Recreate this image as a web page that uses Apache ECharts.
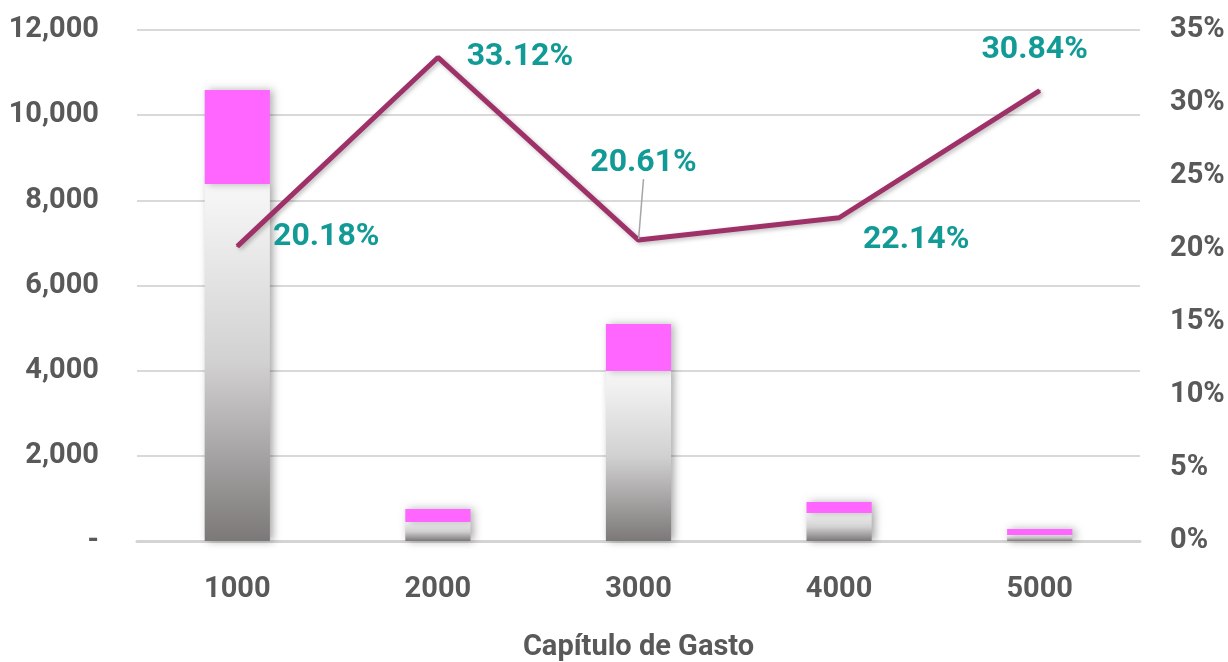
<!DOCTYPE html>
<html>
<head>
<meta charset="utf-8">
<script src="https://cdn.jsdelivr.net/npm/echarts@6/dist/echarts.min.js"></script>
<style>
  html, body { margin: 0; padding: 0; background: #fff; }
  #chart { width: 1228px; height: 662px; }
</style>
</head>
<body>
<div id="chart"></div>
<script>
// datos
const categories = ["1000", "2000", "3000", "4000", "5000"]
const grayValues = [8384, 446, 3993, 658, 141]
const pinkValues = [2206, 306, 1103, 258, 141]
const pctValues = [20.18, 33.12, 20.61, 22.14, 30.84]
const leftTicks = { min: 0, max: 12000, interval: 2000 }
const rightTicks = { min: 0, max: 35, interval: 5 }

// desplazamiento de cada etiqueta del porcentaje
const labelShift = [
  { dx: 89, dy: -9 },
  { dx: 82, dy: 0 },
  { dx: 5, dy: -77 },
  { dx: 77, dy: 22 },
  { dx: -5, dy: -41 }
]

const fontFamily = "Roboto, sans-serif"
const axisColor = "#595959"

const myChart = echarts.init(document.getElementById("chart"))

const option = {
  animation: false,
  textStyle: { fontFamily: fontFamily },
  grid: {
    left: 137,
    right: 88,
    top: 30,
    bottom: 121,
    outerBoundsMode: "none",
    containLabel: false
  },
  xAxis: {
    type: "category",
    data: categories,
    name: "Capítulo de Gasto",
    nameLocation: "middle",
    nameGap: 92,
    nameTextStyle: {
      fontSize: 29,
      fontWeight: "bold",
      color: axisColor,
      fontFamily: fontFamily
    },
    axisLine: { show: true, lineStyle: { color: "#d4d4d4", width: 3 } },
    axisTick: { show: false },
    axisLabel: {
      margin: 34,
      fontSize: 29,
      fontWeight: "bold",
      color: axisColor
    }
  },
  yAxis: [
    {
      type: "value",
      min: leftTicks.min,
      max: leftTicks.max,
      interval: leftTicks.interval,
      axisLine: { show: false },
      axisTick: { show: false },
      splitLine: { show: true, lineStyle: { color: "#d9d9d9", width: 2 } },
      axisLabel: {
        margin: 38,
        fontSize: 29,
        fontWeight: "bold",
        color: axisColor,
        formatter: function (v) {
          return v === 0 ? "-" : v.toLocaleString("en-US")
        }
      }
    },
    {
      type: "value",
      min: rightTicks.min,
      max: rightTicks.max,
      interval: rightTicks.interval,
      axisLine: { show: false },
      axisTick: { show: false },
      splitLine: { show: false },
      axisLabel: {
        margin: 30,
        fontSize: 29,
        fontWeight: "bold",
        color: axisColor,
        formatter: "{value}%"
      }
    }
  ],
  series: [
    {
      name: "base",
      type: "bar",
      stack: "gasto",
      barWidth: "32.5%",
      itemStyle: {
        color: new echarts.graphic.LinearGradient(0, 0, 0, 1, [
          { offset: 0, color: "#f8f8f8" },
          { offset: 0.5, color: "#d2d1d1" },
          { offset: 1, color: "#7c7878" }
        ]),
        shadowColor: "rgba(0,0,0,0.35)",
        shadowBlur: 8,
        shadowOffsetX: 3
      },
      data: grayValues
    },
    {
      name: "extra",
      type: "bar",
      stack: "gasto",
      barWidth: "32.5%",
      itemStyle: {
        color: "#ff66ff",
        shadowColor: "rgba(0,0,0,0.3)",
        shadowBlur: 8,
        shadowOffsetX: 3
      },
      data: pinkValues
    },
    {
      name: "porcentaje",
      type: "line",
      yAxisIndex: 1,
      z: 5,
      symbol: "circle",
      symbolSize: 2,
      showSymbol: true,
      itemStyle: { color: "#9e3268" },
      lineStyle: {
        color: "#9e3268",
        width: 5,
        shadowColor: "rgba(0,0,0,0.25)",
        shadowBlur: 4,
        shadowOffsetX: 2,
        shadowOffsetY: 2
      },
      label: {
        show: true,
        position: "inside",
        fontSize: 32,
        fontWeight: "bold",
        color: "#129b96",
        formatter: function (p) {
          return p.value.toFixed(2) + "%"
        }
      },
      labelLine: {
        show: false,
        lineStyle: { color: "#a6a6a6", width: 1.5 }
      },
      labelLayout: function (params) {
        return { dx: labelShift[params.dataIndex].dx, dy: labelShift[params.dataIndex].dy }
      },
      data: pctValues.map(function (v, i) {
        return i === 2 ? { value: v, labelLine: { show: true } } : v
      })
    }
  ]
}

myChart.setOption(option, true)
</script>
</body>
</html>
